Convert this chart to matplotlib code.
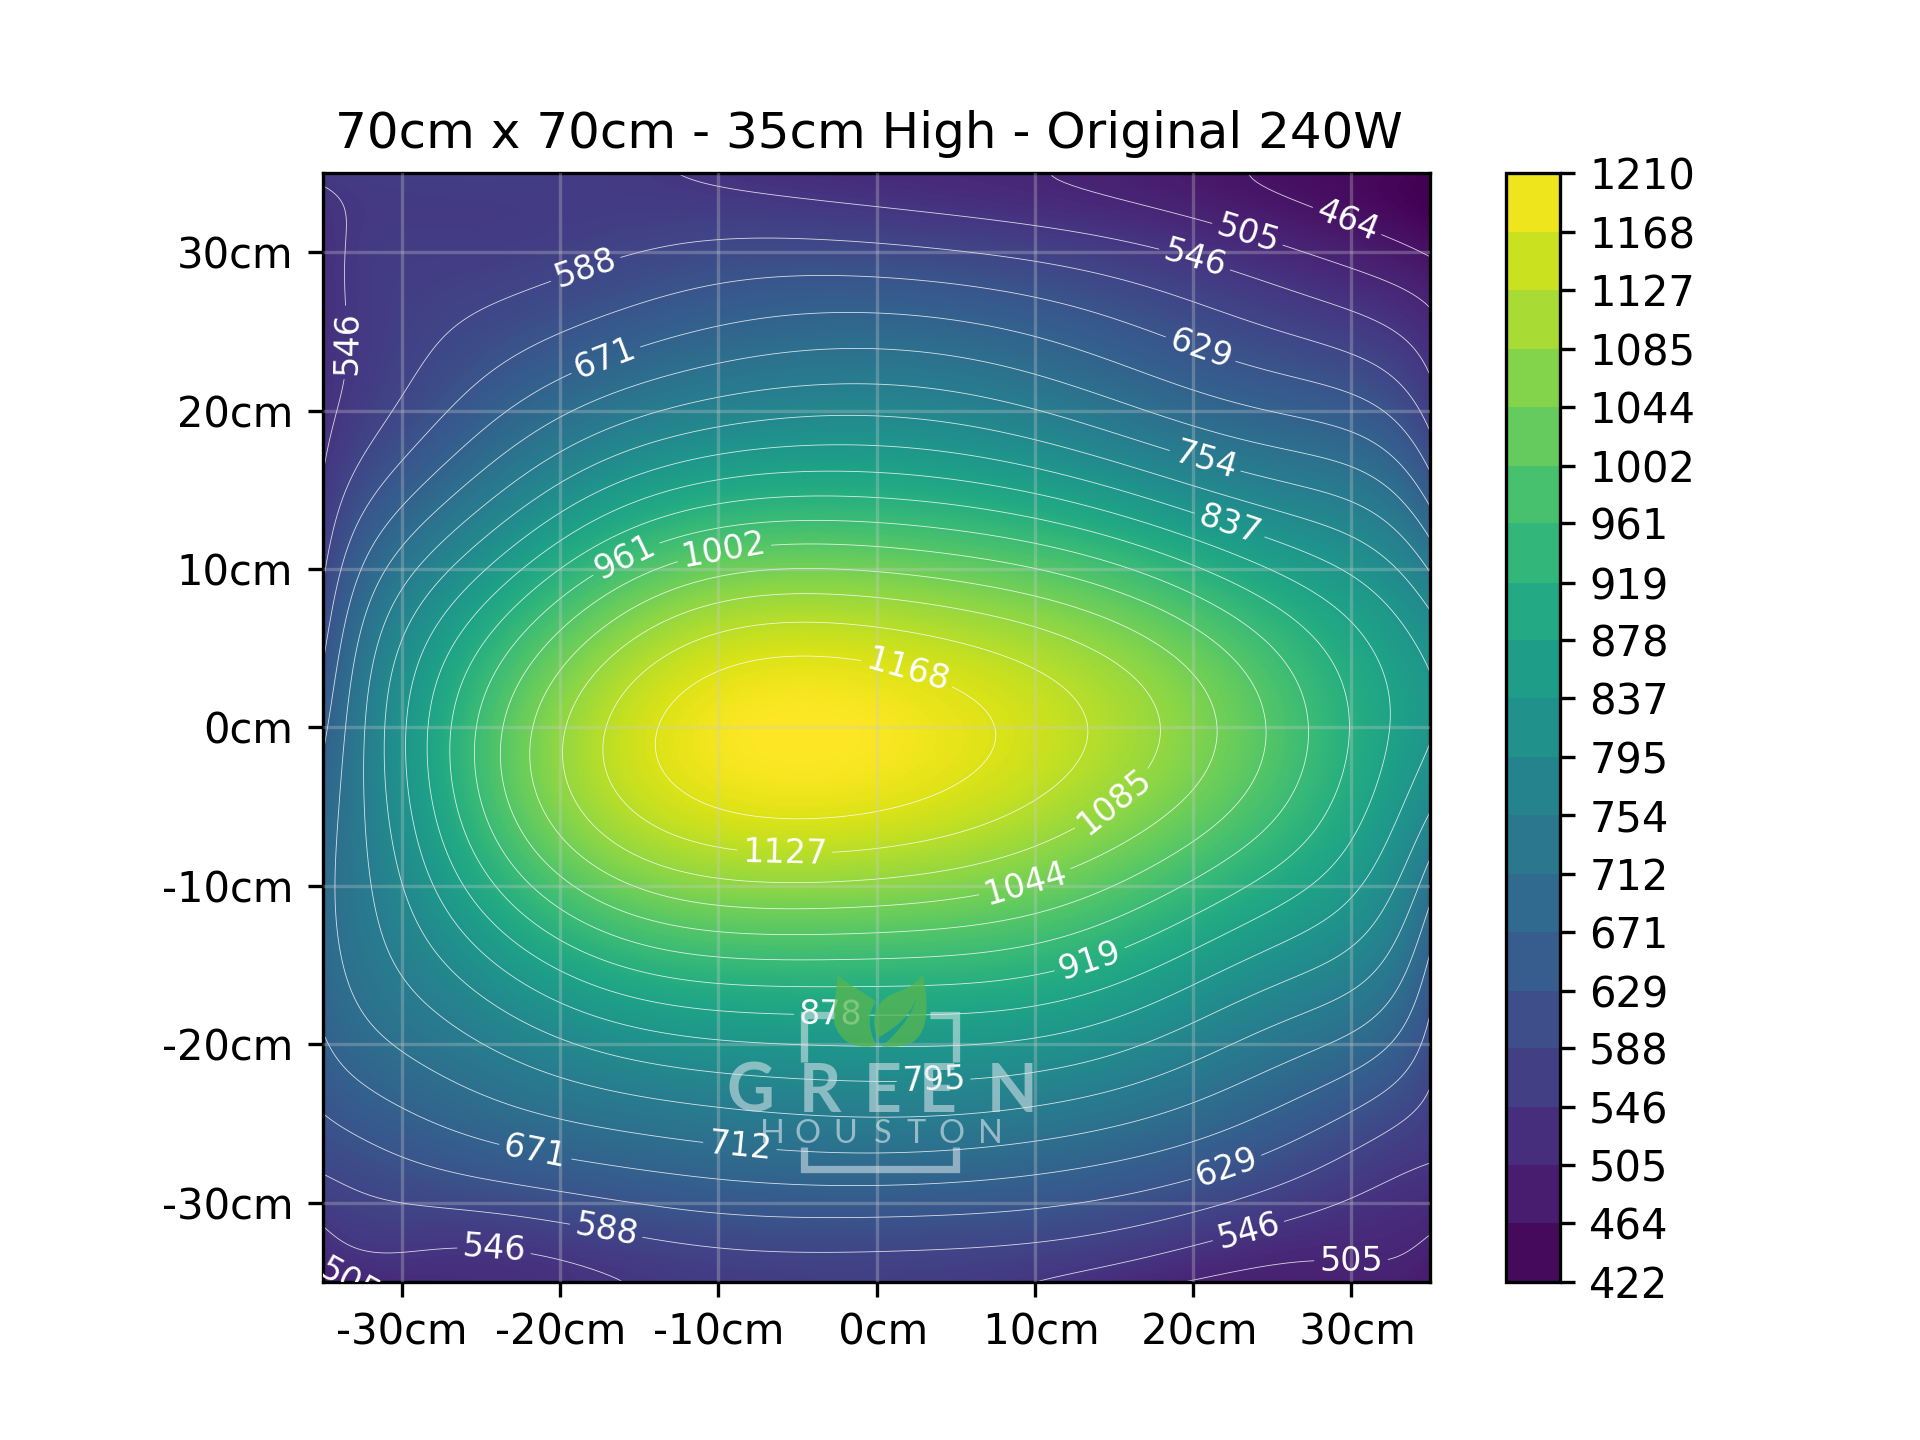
import matplotlib
matplotlib.use("Agg")
import matplotlib.pyplot as plt
import numpy as np
from numpy.polynomial import chebyshev as cheb
from matplotlib.cm import ScalarMappable
from matplotlib.colors import BoundaryNorm, ListedColormap, Normalize
from matplotlib.patches import PathPatch
from matplotlib.path import Path
from matplotlib.transforms import Affine2D

TITLE = "70cm x 70cm - 35cm High - Original 240W"
LEVELS = [422, 464, 505, 546, 588, 629, 671, 712, 754, 795, 837, 878, 919, 961,
          1002, 1044, 1085, 1127, 1168, 1210]
X_CM = [-35, -30, -20, -10, 0, 10, 20, 25, 30, 35]
Y_CM = [35, 30, 25, 20, 15, 10, 5, 0, -5, -10, -15, -20, -25, -30, -35]
COL_M35 = [556, 530, 530, 538, 546, 584, 622, 660, 688, 700, 695, 662, 625, 565, 488]
COL_M30 = [566, 562, 568, 597, 658, 730, 798, 834, 818, 790, 763, 717, 656, 589, 520]
COL_M20 = [563, 575, 625, 705, 810, 919, 1010, 1087, 1060, 984, 888, 795, 701, 617, 536]
COL_M10 = [540, 600, 674, 775, 895, 1024, 1148, 1195, 1173, 1069, 947, 833, 733, 642, 560]
COL_0 = [516, 601, 689, 791, 909, 1039, 1160, 1204, 1175, 1073, 953, 845, 743, 651, 570]
COL_P10 = [510, 577, 664, 758, 869, 997, 1103, 1150, 1122, 1036, 927, 831, 731, 635, 545]
COL_P20 = [472, 542, 612, 700, 800, 930, 1048, 1058, 1038, 961, 862, 775, 691, 603, 505]
COL_P25 = [464, 515, 588, 671, 768, 867, 943, 997, 975, 888, 816, 740, 651, 570, 490]
COL_P30 = [442, 492, 563, 650, 743, 833, 895, 928, 898, 843, 780, 708, 611, 546, 495]
COL_P35 = [425, 462, 514, 577, 652, 743, 822, 855, 789, 727, 666, 612, 566, 524, 478]
COLUMNS = [COL_M35, COL_M30, COL_M20, COL_M10, COL_0, COL_P10, COL_P20, COL_P25, COL_P30, COL_P35]
# further readings along the y = 0 line, between the columns above
ROW0_X = [-25, -15, -5, 5, 15]
ROW0_VALUES = [978, 1160, 1209, 1183, 1110]
TICKS = [-30, -20, -10, 0, 10, 20, 30]
X_TICK_LABELS = ["-30cm", "-20cm", "-10cm", " 0cm", " 10cm", " 20cm", " 30cm"]
Y_TICK_LABELS = ["-30cm", "-20cm", "-10cm", "0cm", "10cm", "20cm", "30cm"]
LABEL_SPOTS = {
    1168: [(2.1, 4.1)], 1127: [(-5.8, -7.6)], 1085: [(15.6, -5.4)], 1044: [(9.4, -9.8)],
    1002: [(-9.6, 10.9)], 961: [(-15.8, 10.6)], 919: [(13.5, -14.7)], 878: [(-2.9, -18.2)],
    837: [(22.2, 12.4)], 795: [(3.6, -22)], 754: [(20.8, 16.9)], 712: [(-8.6, -26)],
    671: [(-17.2, 23.4), (-21.5, -26.4)], 629: [(20.5, 23.9), (22.1, -27.7)],
    588: [(-18.7, 29.8), (-17.1, -31.8)],
    546: [(-32.4, 24.3), (20.1, 29.5), (-24.2, -33.2), (23.6, -32.1)],
    505: [(23.6, 31.6), (-32.9, -34.4), (30, -33.8)], 464: [(30, 32.6)],
}

W, H = 1920, 1440
fig = plt.figure(figsize=(6.4, 4.8), dpi=300)
ax = fig.add_axes([323 / W, 158 / H, 1107 / W, 1109 / H])
cax = fig.add_axes([1506 / W, 158 / H, 54 / W, 1109 / H])

# smooth surface through the values
X, Y = np.meshgrid(X_CM, Y_CM)
Z = np.array(COLUMNS, dtype=float).T
px = np.r_[X.ravel(), ROW0_X] / 35.0
py = np.r_[Y.ravel(), np.zeros(len(ROW0_X))] / 35.0
pz = np.r_[Z.ravel(), ROW0_VALUES]
DEG = (8, 9)
A = cheb.chebvander2d(px, py, DEG)
coef = np.linalg.lstsq(A, pz, rcond=None)[0].reshape(DEG[0] + 1, DEG[1] + 1)
xf = np.linspace(-35, 35, 351)
yf = np.linspace(-35, 35, 351)
zf = cheb.chebgrid2d(xf / 35.0, yf / 35.0, coef).T

norm = Normalize(LEVELS[0], LEVELS[-1])
ax.imshow(zf, extent=(-35, 35, -35, 35), origin="lower", aspect="auto", cmap="viridis",
          norm=norm, interpolation="bilinear", zorder=1)
for lev in LEVELS[1:-1]:
    cs = ax.contour(xf, yf, zf, levels=[lev], colors="white", linewidths=0.2, alpha=0.8, zorder=2)
    if lev in LABEL_SPOTS:
        for t in ax.clabel(cs, manual=LABEL_SPOTS[lev], inline=True, fontsize=8, fmt="%d", colors="white"):
            t.set_alpha(1)
ax.set_xlim(-35, 35)
ax.set_ylim(-35, 35)
ax.set_xticks(TICKS, X_TICK_LABELS)
ax.set_yticks(TICKS, Y_TICK_LABELS)
ax.tick_params(axis="y", pad=3.7)
ax.grid(True, color="#cccccc", alpha=0.3, linewidth=0.8)
ax.set_axisbelow(False)
ax.set_title(TITLE, x=0.4928)

mids = (np.array(LEVELS[:-1]) + np.array(LEVELS[1:])) / 2
bar_cmap = ListedColormap(plt.get_cmap("viridis")(norm(mids)))
sm = ScalarMappable(norm=BoundaryNorm(LEVELS, len(mids)), cmap=bar_cmap)
cb = fig.colorbar(sm, cax=cax, spacing="proportional", ticks=LEVELS)
cb.set_ticklabels([str(v) for v in LEVELS])

# watermark, in figure pixels (origin top-left)
T = Affine2D().scale(1, -1).translate(0, H)
wm = "#dfe9ee"
def seg(pts):
    ax.add_artist(plt.Line2D([p[0] for p in pts], [p[1] for p in pts], transform=T, color=wm,
                             alpha=0.55, lw=1.75, solid_capstyle="butt", solid_joinstyle="miter",
                             zorder=6, clip_on=False))
seg([(803.5, 1062), (803.5, 1014.5), (835, 1014.5)])
seg([(930, 1014.5), (956, 1014.5), (956, 1062)])
seg([(803.5, 1147), (803.5, 1168.5), (956, 1168.5), (956, 1147)])
for ch, xp in zip("GREEN", [750, 820, 883, 938, 1012]):
    ax.text(xp, 1111.5, ch, transform=T, family="Lato", weight="bold", fontsize=15.8, color=wm, alpha=0.55,
            ha="center", va="baseline", zorder=6)
for ch, xp in zip("HOUSTON", [772, 808, 845, 883, 916, 952, 990]):
    ax.text(xp, 1143, ch, transform=T, family="Lato", fontsize=7.8, color=wm, alpha=0.6,
            ha="center", va="baseline", zorder=6)
C3, M = Path.CURVE4, Path.MOVETO
to_px = lambda pts: [(700 + u / 3, 940 + v / 3) for u, v in pts]
left = to_px([(412, 105), (450, 140), (500, 160), (528, 185), (500, 220), (505, 270), (530, 318),
              (480, 325), (425, 320), (403, 250), (398, 200), (412, 140), (412, 105)])
right = to_px([(668, 105), (685, 180), (690, 270), (640, 305), (600, 325), (560, 320), (545, 320),
               (605, 265), (640, 220), (650, 170), (630, 235), (575, 270), (532, 295), (510, 240),
               (525, 190), (570, 165), (610, 150), (640, 140), (668, 105)])
for pts in (left, right):
    codes = [M] + [C3] * (len(pts) - 1)
    ax.add_artist(PathPatch(Path(pts, codes), transform=T, fc="#58b550", ec="none", alpha=0.75, zorder=7, clip_on=False))

fig.savefig("out.png", dpi=300)
